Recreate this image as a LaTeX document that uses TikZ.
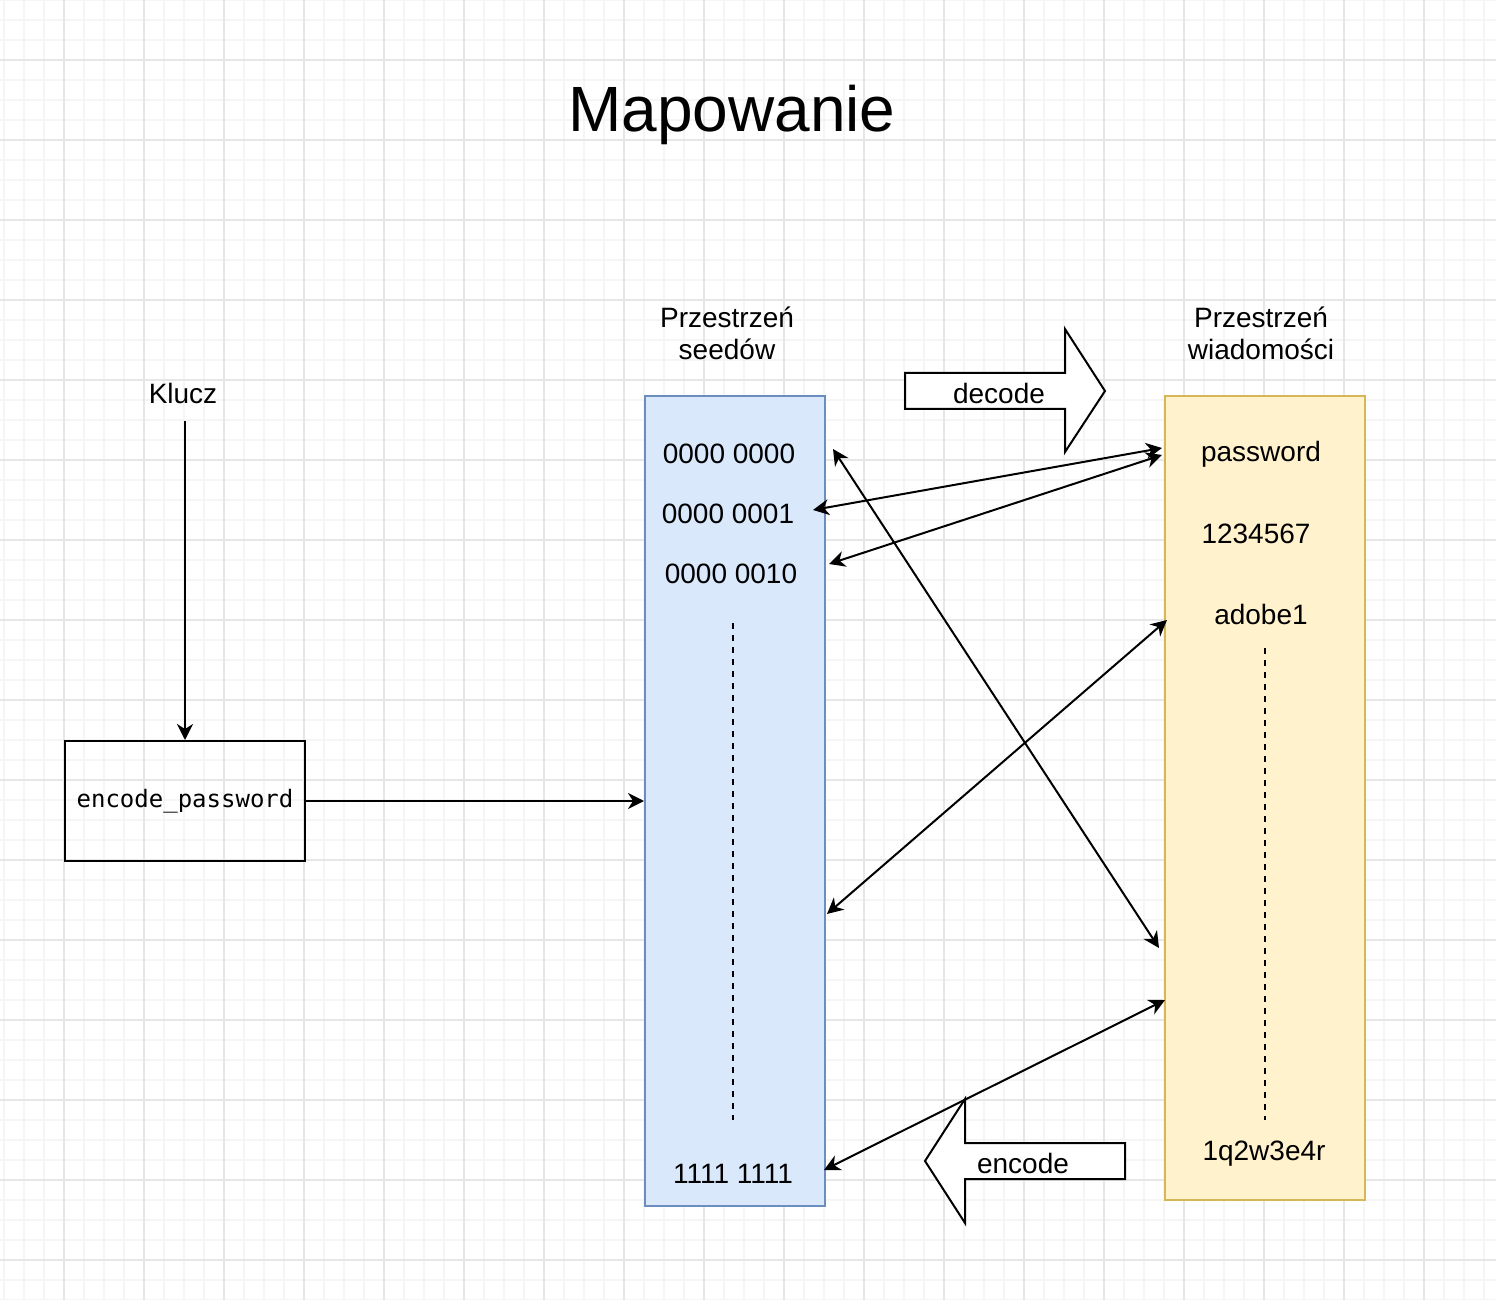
\documentclass[tikz,border=0pt]{standalone}
\usepackage{fontspec}
\setmainfont{Liberation Sans}
\setmonofont{DejaVu Sans Mono}
\usetikzlibrary{arrows.meta}
\usetikzlibrary{positioning}

\definecolor{gridminor}{HTML}{F5F5F5}
\definecolor{gridmajor}{HTML}{E6E6E6}
\definecolor{seedfill}{HTML}{DAE8FC}
\definecolor{seeddraw}{HTML}{6C8EBF}
\definecolor{msgfill}{HTML}{FFF2CC}
\definecolor{msgdraw}{HTML}{D6B656}

\tikzset{
  txt/.style={inner sep=0pt, font=\fontsize{14pt}{16pt}\selectfont},
  twoline/.style={txt, align=center},
  link/.style={line width=1pt, -{Stealth[length=8pt, width=8pt, inset=2.5pt]}},
  bilink/.style={line width=1pt, {Stealth[length=8pt, width=8pt, inset=2.5pt]}-{Stealth[length=8pt, width=8pt, inset=2.5pt]}},
  fatarrow/.style={draw, line width=1pt, fill=white, line join=miter},
  dots/.style={line width=0.8pt, dash pattern=on 3pt off 3pt},
}

\begin{document}
\begin{tikzpicture}[x=0.5pt, y=-0.5pt]
  \useasboundingbox (0,0) rectangle (1496,1300);

  % background grid
  \fill[white] (0,0) rectangle (1496,1300);
  \foreach \x in {4,24,...,1496} \draw[gridminor, line width=0.8pt] (\x,0) -- (\x,1300);
  \foreach \y in {0,20,...,1300} \draw[gridminor, line width=0.8pt] (0,\y) -- (1496,\y);
  \foreach \x in {64,144,...,1496} \draw[gridmajor, line width=0.9pt] (\x,0) -- (\x,1300);
  \foreach \y in {60,140,...,1300} \draw[gridmajor, line width=0.9pt] (0,\y) -- (1496,\y);

  % title
  \node[inner sep=0pt, font=\fontsize{32pt}{38pt}\selectfont] (title) at (732,115) {Mapowanie};

  % key and encoder
  \node[txt] (klucz) at (183,393) {Klucz};
  \node[draw, line width=1pt, minimum width=120pt, minimum height=60pt, font=\ttfamily\fontsize{12pt}{14pt}\selectfont] (enc) at (185,801) {encode\_password};

  % the two spaces
  \node[draw=seeddraw, fill=seedfill, line width=1pt, minimum width=90pt, minimum height=405pt] (seeds) at (735,801) {};
  \node[draw=msgdraw, fill=msgfill, line width=1pt, minimum width=100pt, minimum height=402pt] (msgs) at (1265,798) {};
  \node[twoline] (seedlbl) at (727,333) {Przestrzeń\\seedów};
  \node[twoline] (msglbl) at (1261,333) {Przestrzeń\\wiadomości};

  % seed entries
  \node[txt] (s0) at (729,454) {0000 0000};
  \node[txt] (s1) at (728,514) {0000 0001};
  \node[txt] (s2) at (731,574) {0000 0010};
  \node[txt] (sN) at (733,1174) {1111 1111};
  \coordinate (sdotA) at (733,623);
  \coordinate (sdotB) at (733,1120);
  \draw[dots] (sdotA) -- (sdotB);

  % message entries
  \node[txt] (m0) at (1261,454) {password};
  \node[txt] (m1) at (1256,534) {1234567};
  \node[txt] (m2) at (1261,614) {adobe1};
  \node[txt] (mN) at (1264,1154) {1q2w3e4r};
  \coordinate (mdotA) at (1265,648);
  \coordinate (mdotB) at (1265,1120);
  \draw[dots] (mdotA) -- (mdotB);

  % block arrows
  \draw[fatarrow] (905,373) -- (1065,373) -- (1065,329) -- (1105,391) -- (1065,452) -- (1065,409) -- (905,409) -- cycle;
  \node[txt] (decode) at (999,393) {decode};
  \draw[fatarrow] (1125,1143) -- (965,1143) -- (965,1099) -- (925,1161) -- (965,1223) -- (965,1179) -- (1125,1179) -- cycle;
  \node[txt] (encode) at (1023,1163) {encode};

  % end points of the mapping arrows
  \coordinate (a0) at (833,449);
  \coordinate (a1) at (813,510);
  \coordinate (a2) at (829,564);
  \coordinate (a3) at (827,914);
  \coordinate (a4) at (824,1170);
  \coordinate (b0) at (1162,448);
  \coordinate (b1) at (1162,455);
  \coordinate (b2) at (1167,620);
  \coordinate (b3) at (1159,948);
  \coordinate (b4) at (1165,1000);
  \coordinate (kluczend) at (185,421);

  % connectors
  \draw[link] (kluczend) -- (enc.north);
  \draw[link] (enc.east) -- (seeds.west);
  \draw[bilink] (a1) -- (b0);
  \draw[bilink] (a2) -- (b1);
  \draw[bilink] (a0) -- (b3);
  \draw[bilink] (a3) -- (b2);
  \draw[bilink] (a4) -- (b4);
\end{tikzpicture}
\end{document}
